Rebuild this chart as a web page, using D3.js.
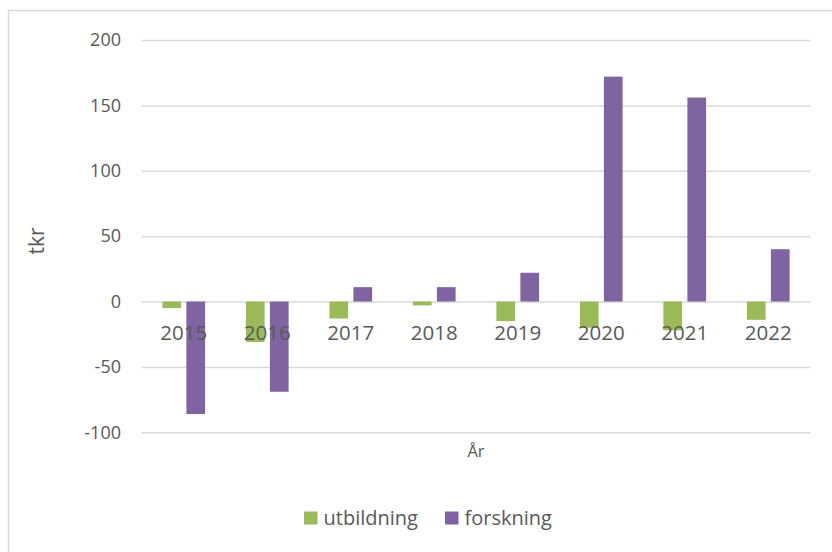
<!DOCTYPE html>
<html>
<head>
<meta charset="utf-8">
<script src="https://cdn.jsdelivr.net/npm/d3@7"></script>
<style>
  body { margin: 0; background: #fff; }
  text { font-family: "Open Sans", "Noto Sans", sans-serif; fill: #595959; }
</style>
</head>
<body>
<div id="chart"></div>
<script>
// data
var years = ["2015", "2016", "2017", "2018", "2019", "2020", "2021", "2022"];
var utbildning = [-5, -31, -13, -3, -15, -20, -22, -14];
var forskning = [-86, -69, 11, 11, 22, 172, 156, 40];
var seriesNames = ["utbildning", "forskning"];
var seriesColors = ["#9bbb59", "#8064a2"];
var yTicks = [-100, -50, 0, 50, 100, 150, 200];

var width = 832, height = 552;
var plot = {left: 142, right: 810, top: 40, bottom: 432.3};

var svg = d3.select("#chart")
    .append("svg")
    .attr("width", width)
    .attr("height", height);

// chart area border
svg.append("rect")
    .attr("x", 8.5)
    .attr("y", 10.5)
    .attr("width", 900)
    .attr("height", 700)
    .attr("fill", "none")
    .attr("stroke", "#d9d9d9")
    .attr("stroke-width", 1.5);

var x0 = d3.scaleBand().domain(years).range([plot.left, plot.right]).padding(0);
var bw = x0.bandwidth();
var x1 = d3.scaleBand().domain(seriesNames)
    .range([bw / 2 - 21.35, bw / 2 + 21.35])
    .paddingInner(0.22);
var y = d3.scaleLinear().domain([-100, 200]).range([plot.bottom, plot.top]);

// gridlines + y labels
var yAxis = svg.append("g")
    .attr("transform", "translate(" + plot.left + ",0)")
    .call(d3.axisLeft(y).tickValues(yTicks)
        .tickFormat(function(d){ return String(d); })
        .tickSize(-(plot.right - plot.left)).tickPadding(21));
yAxis.select(".domain").remove();
yAxis.selectAll("line").attr("stroke", "#d9d9d9").attr("stroke-width", 1.5);
yAxis.selectAll("text")
    .style("font-family", "'Open Sans', sans-serif")
    .style("font-size", "18px")
    .attr("fill", "#595959");

// bars
var rows = years.map(function(yr, i){
    return {year: yr, values: [utbildning[i], forskning[i]]};
});

var groups = svg.selectAll(".grp")
    .data(rows)
    .enter()
    .append("g")
    .attr("class", "grp")
    .attr("transform", function(d){ return "translate(" + x0(d.year) + ",0)"; });

groups.selectAll("rect")
    .data(function(d){ return d.values.map(function(v, k){ return {name: seriesNames[k], value: v, k: k}; }); })
    .enter()
    .append("rect")
    .attr("x", function(d){ return x1(d.name); })
    .attr("width", x1.bandwidth())
    .attr("y", function(d){ return y(Math.max(0, d.value)); })
    .attr("height", function(d){ return Math.abs(y(d.value) - y(0)); })
    .attr("fill", function(d){ return seriesColors[d.k]; });

// category labels (drawn over the bars)
var xAxis = svg.append("g")
    .attr("transform", "translate(0," + y(0) + ")")
    .call(d3.axisBottom(x0).tickSize(0).tickPadding(24));
xAxis.select(".domain").remove();
xAxis.selectAll("text")
    .style("font-family", "'Open Sans', sans-serif")
    .style("font-size", "20.5px")
    .attr("fill", "#595959");

// axis titles
svg.append("text")
    .attr("x", (plot.left + plot.right) / 2)
    .attr("y", 457)
    .attr("text-anchor", "middle")
    .style("font-size", "16.5px")
    .text("År");

svg.append("text")
    .attr("transform", "translate(44,241) rotate(-90)")
    .attr("text-anchor", "middle")
    .style("font-size", "21px")
    .text("tkr");

// legend
var legendX = [304, 445];
var legend = svg.selectAll(".leg")
    .data(seriesNames)
    .enter()
    .append("g")
    .attr("class", "leg")
    .attr("transform", function(d, i){ return "translate(" + legendX[i] + ",511.5)"; });
legend.append("rect")
    .attr("width", 13.5)
    .attr("height", 13)
    .attr("fill", function(d, i){ return seriesColors[i]; });
legend.append("text")
    .attr("x", 19.5)
    .attr("y", 13)
    .style("font-size", "20px")
    .text(function(d){ return d; });
</script>
</body>
</html>
